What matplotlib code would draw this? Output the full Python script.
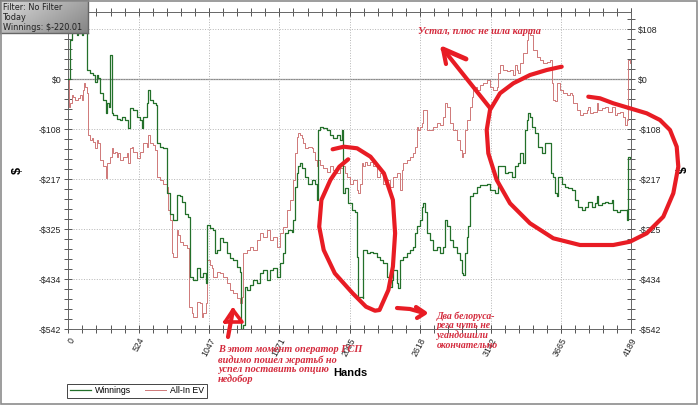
import matplotlib
matplotlib.use("Agg")
import matplotlib.pyplot as plt
import numpy as np
from matplotlib.lines import Line2D
from matplotlib.patches import Rectangle
from matplotlib.ticker import AutoMinorLocator


# (hand, $) points
WINNINGS = [
    (0, 0), (12, 85), (25, 100), (37, 103), (62, 96), (74, 100), (99, 96), (112, 107),
    (136, 114), (141, 20), (161, 13), (186, 9), (198, -5), (211, 9), (223, 2), (236, -30),
    (260, -45), (280, -74), (285, -52), (305, -59), (310, 53), (322, -74), (335, -77),
    (360, -85), (384, -88), (397, -81), (422, -88), (446, -106), (459, -63), (484, -66),
    (508, -81), (533, -88), (546, -106), (558, -81), (583, -52), (595, -23), (608, -45),
    (632, -52), (652, -56), (657, -139), (682, -146), (707, -150), (732, -161), (737, -247),
    (756, -291), (781, -305), (806, -251), (831, -254), (843, -265), (868, -291), (893, -298),
    (905, -428), (930, -435), (955, -410), (980, -428), (1004, -421), (1024, -442),
    (1029, -316), (1054, -323), (1079, -327), (1091, -377), (1104, -370), (1128, -345),
    (1153, -352), (1178, -377), (1203, -388), (1228, -392), (1252, -406), (1277, -417),
    (1285, -542), (1302, -533), (1314, -450), (1327, -457), (1352, -446), (1376, -435),
    (1401, -442), (1426, -421), (1451, -413), (1476, -435), (1500, -413), (1525, -410),
    (1550, -428), (1575, -399), (1600, -377), (1612, -334), (1637, -327), (1662, -330),
    (1674, -305), (1687, -233), (1699, -204), (1711, -189), (1724, -182), (1736, -193),
    (1761, -211), (1786, -226), (1811, -218), (1835, -226), (1848, -262), (1860, -110),
    (1873, -103), (1897, -106), (1922, -110), (1947, -121), (1972, -128), (1997, -121),
    (2021, -132), (2034, -110), (2041, -247), (2059, -236), (2083, -269), (2108, -283),
    (2133, -287), (2145, -385), (2158, -471), (2190, -475), (2195, -370), (2220, -377),
    (2245, -374), (2269, -377), (2294, -385), (2319, -392), (2344, -399), (2369, -428),
    (2393, -450), (2406, -435), (2418, -413), (2443, -442), (2455, -453), (2468, -392),
    (2493, -385), (2517, -377), (2542, -370), (2567, -363), (2579, -334), (2592, -319),
    (2617, -305), (2629, -276), (2641, -269), (2654, -287), (2666, -334), (2691, -348),
    (2716, -370), (2741, -363), (2765, -377), (2790, -363), (2803, -305), (2815, -319),
    (2840, -348), (2865, -363), (2889, -377), (2914, -392), (2927, -421), (2939, -424),
    (2951, -377), (2964, -341), (2976, -319), (2989, -254), (3013, -247), (3038, -233),
    (3063, -229), (3113, -226), (3137, -240), (3175, -247), (3199, -189), (3224, -189),
    (3249, -204), (3274, -200), (3299, -211), (3323, -189), (3348, -182), (3361, -160),
    (3385, -182), (3398, -110), (3410, -88), (3423, -74), (3435, -81), (3447, -103),
    (3472, -117), (3497, -146), (3522, -160), (3547, -139), (3584, -139), (3591, -204),
    (3609, -211), (3621, -247), (3633, -254), (3646, -211), (3671, -226), (3695, -233),
    (3720, -236), (3745, -240), (3770, -262), (3795, -276), (3819, -283), (3844, -276),
    (3869, -265), (3894, -276), (3919, -269), (3931, -254), (3943, -272), (3968, -269),
    (3993, -265), (4018, -269), (4043, -262), (4055, -283), (4080, -287), (4105, -283),
    (4129, -283), (4154, -305), (4162, -168), (4179, -171), (4189, -220.01),
]

ALLIN_EV = [
    (0, 0), (5, -59), (12, -52), (25, -34), (37, -38), (50, -45), (74, -41), (87, -34),
    (99, -45), (112, -23), (117, -9), (124, -16), (136, -30), (144, -121), (161, -132),
    (174, -128), (186, -135), (198, -150), (211, -132), (223, -139), (236, -175), (260, -189),
    (280, -215), (290, -182), (310, -168), (322, -150), (335, -160), (347, -157), (360, -168),
    (372, -160), (384, -175), (409, -168), (434, -160), (446, -182), (459, -150), (471, -146),
    (484, -157), (508, -171), (533, -157), (558, -139), (583, -146), (595, -121), (608, -139),
    (632, -142), (645, -153), (657, -211), (682, -218), (707, -226), (732, -233), (739, -283),
    (756, -305), (769, -377), (781, -385), (806, -327), (818, -338), (831, -352), (856, -359),
    (880, -366), (900, -493), (918, -507), (930, -515), (955, -482), (980, -486), (992, -515),
    (1004, -507), (1024, -486), (1029, -392), (1054, -403), (1066, -410), (1079, -428),
    (1104, -417), (1128, -421), (1153, -428), (1178, -442), (1203, -457), (1228, -464),
    (1252, -475), (1277, -486), (1290, -471), (1302, -377), (1327, -370), (1352, -363),
    (1376, -370), (1401, -348), (1426, -334), (1451, -341), (1476, -327), (1500, -348),
    (1525, -341), (1550, -363), (1575, -334), (1600, -320), (1625, -283), (1649, -262),
    (1674, -218), (1687, -160), (1699, -124), (1711, -117), (1724, -121), (1736, -128),
    (1749, -139), (1761, -150), (1786, -146), (1811, -150), (1823, -157), (1835, -175),
    (1848, -189), (1860, -175), (1873, -186), (1897, -193), (1922, -200), (1947, -189),
    (1972, -197), (1997, -204), (2021, -193), (2046, -189), (2059, -204), (2071, -211),
    (2096, -226), (2121, -218), (2145, -240), (2158, -247), (2170, -226), (2183, -182),
    (2195, -189), (2207, -179), (2220, -186), (2245, -179), (2269, -189), (2294, -211),
    (2319, -204), (2344, -226), (2369, -218), (2393, -233), (2418, -211), (2443, -204),
    (2468, -240), (2480, -197), (2493, -182), (2517, -175), (2542, -168), (2567, -160),
    (2579, -146), (2592, -103), (2604, -110), (2617, -103), (2629, -95), (2641, -67),
    (2654, -67), (2666, -110), (2691, -110), (2716, -103), (2741, -95), (2765, -99),
    (2790, -81), (2803, -52), (2815, -59), (2840, -95), (2865, -110), (2889, -132),
    (2914, -153), (2927, -168), (2939, -160), (2951, -110), (2964, -88), (2989, -59),
    (3001, -38), (3013, -16), (3038, -23), (3063, -12), (3088, -9), (3113, -1), (3137, -16),
    (3162, -23), (3187, -16), (3199, 13), (3212, 31), (3237, 20), (3261, 17), (3286, 20),
    (3311, 9), (3323, 31), (3336, 20), (3348, 13), (3361, 35), (3385, 56), (3410, 85),
    (3423, 100), (3435, 96), (3460, 64), (3485, 49), (3509, 42), (3534, 35), (3559, 38),
    (3584, 42), (3596, -9), (3609, -45), (3621, -48), (3633, -9), (3658, -23), (3683, -30),
    (3708, -34), (3733, -30), (3745, -34), (3757, -52), (3782, -67), (3807, -77), (3832, -74),
    (3857, -67), (3869, -59), (3881, -74), (3906, -70), (3931, -52), (3943, -67), (3968, -63),
    (3993, -59), (4018, -70), (4043, -59), (4067, -77), (4080, -74), (4105, -70), (4129, -81),
    (4142, -99), (4154, -88), (4162, 42), (4179, 35), (4189, -16),
]

X_TICKS = [0, 523.6, 1047.3, 1570.9, 2094.5, 2618.1, 3141.8, 3665.4, 4189]
X_LABELS = ["0", "524", "1047", "1571", "2095", "2618", "3142", "3665", "4189"]
Y_TICKS = [-542, -433.6, -325.2, -216.8, -108.4, 0, 108.4]
Y_LABELS = ["-$542", "-$434", "-$325", "-$217", "-$108", "$0", "$108"]

INFO_LINES = ["Filter: No Filter", "Today", "Winnings: $-220.01"]
NOTE_TOP = "Устал, плюс не шла карта"
NOTE_GSP = ["В этот момент оператор ГСП", "видимо пошел жратьб но",
            "успел поставить опцию", "недобор"]
NOTE_BY = ["Два белоруса-", "рега чуть не", "угандошили", "окончательно"]

GREEN = "#23702a"
PINK = "#cf7878"
RED = "#e81c24"
TXT_RED = "#d42a3c"
NOTE_FONT = "Liberation Serif"

W, H = 700, 409


def fx(x):
    return x / W


def fy(y):
    return 1 - y / H


fig = plt.figure(figsize=(7, 4.09), dpi=100)
fig.patch.set_facecolor("white")

ax = fig.add_axes([fx(68.3), fy(329.3), fx(631.3) - fx(68.3), fy(11.7) - fy(329.3)])

win_h, win_v = zip(*WINNINGS)
ev_h, ev_v = zip(*ALLIN_EV)
l_win, = ax.step(win_h, win_v, where="post", color=GREEN, lw=0.9, zorder=3)
l_ev, = ax.step(ev_h, ev_v, where="post", color=PINK, lw=0.7, zorder=2)

ax.set_xlim(0, 4189)
ax.set_ylim(-542, 146.6)
ax.axhline(0, color="#8a8a8a", lw=0.9, zorder=1)

ax.set_xticks(X_TICKS)
ax.set_xticklabels(X_LABELS)
ax.set_yticks(Y_TICKS)
ax.set_yticklabels(Y_LABELS)
ax.xaxis.set_minor_locator(AutoMinorLocator(5))
ax.yaxis.set_minor_locator(AutoMinorLocator(5))
ax.grid(which="major", linestyle=":", color="#b5b5b5", lw=0.7)
ax.tick_params(which="both", direction="inout", length=6, width=0.7, color="#555555",
               top=True, right=True, labelright=True, labelsize=6.3, labelcolor="#222222",
               pad=2)
for lab in ax.get_xticklabels():
    lab.set_rotation(62)
    lab.set_ha("right")
    lab.set_va("top")
    lab.set_rotation_mode("anchor")
    lab.set_family("Liberation Sans")
for tk in ax.yaxis.get_major_ticks():
    tk.label1.set_family("Liberation Sans")
    tk.label2.set_family("Liberation Sans")
# the left $108 label sits under the info box in the screenshot
ax.yaxis.get_major_ticks()[-1].label1.set_visible(False)
for sp in ax.spines.values():
    sp.set_color("#666666")
    sp.set_linewidth(0.7)

fig.text(fx(350), fy(373), "Hands", ha="center", va="center", fontsize=8,
         fontweight="bold", family="Liberation Sans")
fig.text(fx(18), fy(170), "$", ha="center", va="center", fontsize=9,
         fontweight="bold", rotation=90, family="Liberation Sans")
fig.text(fx(679), fy(170), "$", ha="center", va="center", fontsize=9,
         fontweight="bold", rotation=270, family="Liberation Sans")

leg = fig.legend([l_win, l_ev], ["Winnings", "All-In EV"], loc="lower left",
                 bbox_to_anchor=(fx(67), fy(398)), ncol=2, frameon=True, fancybox=False,
                 edgecolor="#444444", framealpha=1, borderaxespad=0, borderpad=0.3,
                 handlelength=2.4, handletextpad=0.5, columnspacing=1.6,
                 prop={"family": "Liberation Sans", "size": 6.3})
leg.get_frame().set_linewidth(0.7)

# info box in the corner, light-to-dark grey
box = fig.add_axes([0, fy(33), fx(88), 1 - fy(33)])
gx = np.linspace(0, 1, 120)[None, :]
gy = np.linspace(0, 1, 40)[:, None]
shade = 0.86 - 0.22 * gx - 0.12 * gy
box.imshow(np.dstack([shade, shade, shade]), aspect="auto", extent=(0, 1, 0, 1))
box.set_xticks([])
box.set_yticks([])
for sp in box.spines.values():
    sp.set_color("#666666")
    sp.set_linewidth(1)
for i, s in enumerate(INFO_LINES):
    fig.text(fx(3), fy(7 + 10 * i), s, ha="left", va="center", fontsize=5.9,
             family="DejaVu Sans", color="#202020")

# outer frame of the screenshot
fig.add_artist(Rectangle((0.001, fy(403.5)), fx(696.5), 1 - fy(403.5) - 0.002,
                         transform=fig.transFigure, fill=False, edgecolor="#8c8c8c", lw=1.2))


# hand-drawn marks
def stroke(pts, lw=3.0):
    xs = [fx(p[0]) for p in pts]
    ys = [fy(p[1]) for p in pts]
    fig.add_artist(Line2D(xs, ys, transform=fig.transFigure, color=RED, lw=lw,
                          solid_capstyle="round", solid_joinstyle="round", zorder=10))


stroke([(332.6, 149.3), (343.8, 146.7), (357.1, 148.3), (370.5, 156.7), (383.9, 173.3),
        (392.9, 200), (395.1, 233.3), (392.9, 266.7), (388.4, 290), (379.5, 310),
        (375, 310.7), (366, 306.7), (352.7, 293.3), (334.8, 273.3), (323.7, 250),
        (319.2, 226.7), (321.4, 200), (330.4, 180), (339.3, 166.7), (348.2, 159.3)])
stroke([(561.7, 66.7), (546.7, 70), (530, 75), (513.3, 83.3), (500, 93.3), (490, 110),
        (486.7, 130), (488.3, 153.3), (496.7, 180), (510, 203.3), (530, 223.3),
        (553.3, 238.3), (580, 245), (613.3, 245), (630, 241.7), (646.7, 233.3),
        (663.3, 216.7), (673.3, 193.3), (678.3, 166.7), (676.7, 146.7), (670, 130),
        (660, 120), (646.7, 113.3), (630, 108.3), (613.3, 103.3), (600, 98.3), (588.3, 96.7)])
stroke([(490, 108), (443, 49)])
stroke([(443, 49), (466, 59)], lw=3.5)
stroke([(443, 49), (446, 64)], lw=3.0)
stroke([(397, 308), (410, 309), (424, 313)])
stroke([(416, 307), (425, 313), (417, 318)], lw=3.0)
stroke([(228, 337), (233, 310)])
stroke([(225, 322), (233, 310), (242, 322), (225, 322)], lw=2.6)

note = dict(fontweight="bold", style="italic", family=NOTE_FONT, color=TXT_RED, zorder=11)
fig.text(fx(418), fy(32), NOTE_TOP, ha="left", va="center", fontsize=7.4, **note)
for i, s in enumerate(NOTE_GSP):
    fig.text(fx(218), fy(350 + 9.8 * i), s, ha="left", va="center", fontsize=7.4, **note)
for i, s in enumerate(NOTE_BY):
    fig.text(fx(437), fy(316.5 + 9.5 * i), s, ha="left", va="center", fontsize=7.0, **note)

fig.savefig("out.png", dpi=100)
